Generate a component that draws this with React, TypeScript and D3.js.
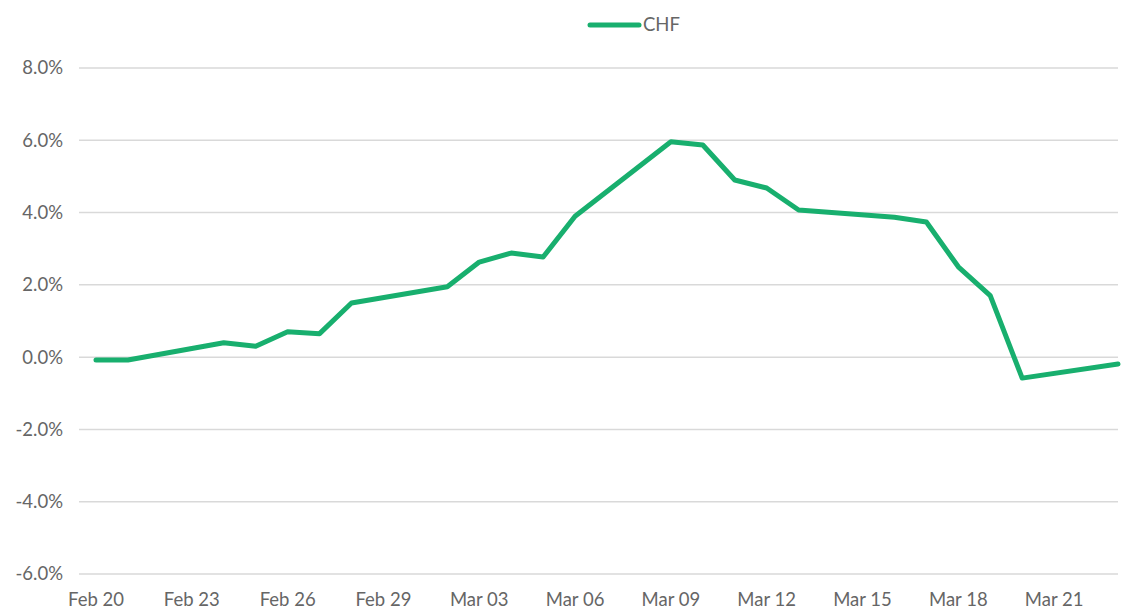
import React from 'react';
import * as d3 from 'd3';

const dates = [
  '2020-02-20', '2020-02-21', '2020-02-24', '2020-02-25', '2020-02-26', '2020-02-27', '2020-02-28',
  '2020-03-02', '2020-03-03', '2020-03-04', '2020-03-05', '2020-03-06',
  '2020-03-09', '2020-03-10', '2020-03-11', '2020-03-12', '2020-03-13',
  '2020-03-16', '2020-03-17', '2020-03-18', '2020-03-19', '2020-03-20', '2020-03-23',
];
const chf = [
  -0.08, -0.08, 0.4, 0.3, 0.7, 0.65, 1.5,
  1.95, 2.63, 2.88, 2.77, 3.9,
  5.96, 5.87, 4.9, 4.68, 4.07,
  3.87, 3.74, 2.5, 1.7, -0.58, -0.19,
];
const yTicks = [8, 6, 4, 2, 0, -2, -4, -6];
const xTickDates = [
  '2020-02-20', '2020-02-23', '2020-02-26', '2020-02-29', '2020-03-03', '2020-03-06',
  '2020-03-09', '2020-03-12', '2020-03-15', '2020-03-18', '2020-03-21',
];

const W = 1121;
const H = 610;
const gridLeft = 79;
const gridRight = 1118;
const green = '#18af6e';
const font = 'Lato, "Open Sans", sans-serif';

export default function App() {
  const parse = d3.utcParse('%Y-%m-%d');
  const x = d3
    .scaleUtc()
    .domain([parse('2020-02-20')!, parse('2020-03-23')!])
    .range([96, 1118]);
  const y = d3.scaleLinear().domain([-6, 8]).range([574, 68]);
  const fmt = d3.utcFormat('%b %d');

  const pts = dates.map((d, i) => [x(parse(d)!), y(chf[i])] as [number, number]);
  const path = d3.line()(pts) || '';

  return (
    <svg width={W} height={H} style={{ position: 'absolute', left: 0, top: 0, background: '#fff' }}>
      {yTicks.map((t) => (
        <g key={t}>
          <line x1={gridLeft} x2={gridRight} y1={y(t)} y2={y(t)} stroke="#d9d9d9" strokeWidth={1.5} />
          <text
            x={63}
            y={y(t)}
            dy="0.35em"
            textAnchor="end"
            fontFamily={font}
            fontSize={18.5}
            fill="#666"
          >
            {t.toFixed(1) + '%'}
          </text>
        </g>
      ))}
      {xTickDates.map((d) => (
        <text
          key={d}
          x={x(parse(d)!)}
          y={600}
          dy="0.35em"
          textAnchor="middle"
          fontFamily={font}
          fontSize={18.5}
          fill="#666"
        >
          {fmt(parse(d)!)}
        </text>
      ))}
      <path d={path} fill="none" stroke={green} strokeWidth={5} strokeLinejoin="round" strokeLinecap="round" />
      <line x1={590} x2={639} y1={25} y2={25} stroke={green} strokeWidth={5} strokeLinecap="round" />
      <text x={643} y={25} dy="0.35em" fontFamily={font} fontSize={18.5} fill="#666">
        CHF
      </text>
    </svg>
  );
}
